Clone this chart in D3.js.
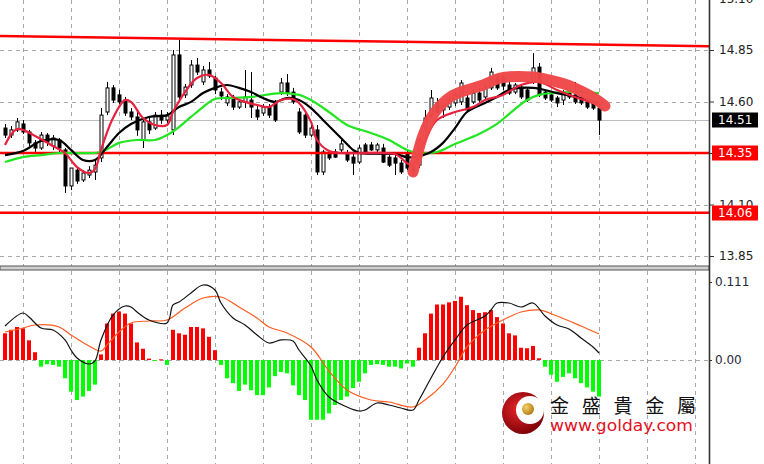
<!DOCTYPE html>
<html><head><meta charset="utf-8">
<script src="https://cdn.jsdelivr.net/npm/d3@7"></script>
<style>body{margin:0;background:#fff;overflow:hidden}</style>
</head><body>
<svg id="c" width="764" height="464"></svg>
<script>
// ---------- DATA ----------
const open = [14.471,14.437,14.462,14.491,14.452,14.399,14.374,14.437,14.384,14.413,
14.365,14.190,14.267,14.219,14.243,14.258,14.326,14.549,14.666,14.632,
14.607,14.549,14.525,14.413,14.501,14.471,14.534,14.510,14.462,14.826,
14.632,14.680,14.777,14.695,14.753,14.714,14.646,14.593,14.617,14.573,
14.598,14.607,14.559,14.544,14.573,14.593,14.646,14.690,14.646,14.549,
14.534,14.437,14.462,14.258,14.350,14.355,14.365,14.350,14.330,14.306,
14.389,14.389,14.365,14.374,14.330,14.326,14.301,14.350,14.277,14.291,
14.471,14.534,14.593,14.559,14.573,14.593,14.598,14.617,14.598,14.641,
14.622,14.666,14.719,14.714,14.680,14.646,14.670,14.656,14.695,14.767,
14.646,14.632,14.617,14.607,14.646,14.632,14.617,14.598,14.593,14.568];
const high = [14.491,14.481,14.520,14.510,14.462,14.413,14.452,14.447,14.437,14.423,
14.374,14.258,14.277,14.267,14.286,14.316,14.568,14.695,14.680,14.656,
14.622,14.568,14.559,14.520,14.530,14.549,14.559,14.549,14.850,14.899,
14.685,14.801,14.811,14.772,14.792,14.724,14.666,14.636,14.632,14.612,
14.753,14.743,14.578,14.588,14.588,14.607,14.714,14.733,14.666,14.568,
14.549,14.486,14.486,14.365,14.365,14.369,14.413,14.365,14.355,14.389,
14.399,14.403,14.399,14.394,14.340,14.340,14.316,14.365,14.306,14.423,
14.559,14.656,14.617,14.583,14.622,14.641,14.704,14.632,14.656,14.666,
14.680,14.763,14.733,14.729,14.704,14.690,14.685,14.666,14.835,14.787,
14.656,14.641,14.627,14.656,14.656,14.695,14.627,14.607,14.602,14.578];
const low = [14.423,14.423,14.452,14.442,14.384,14.355,14.365,14.384,14.365,14.355,
14.156,14.170,14.200,14.209,14.229,14.219,14.306,14.534,14.593,14.588,
14.530,14.510,14.433,14.374,14.442,14.462,14.491,14.496,14.437,14.607,
14.617,14.666,14.729,14.680,14.714,14.636,14.607,14.578,14.559,14.564,
14.568,14.520,14.510,14.530,14.520,14.501,14.632,14.627,14.588,14.442,
14.423,14.428,14.243,14.243,14.316,14.326,14.355,14.306,14.243,14.296,
14.345,14.360,14.355,14.301,14.282,14.243,14.248,14.267,14.238,14.277,
14.452,14.520,14.539,14.520,14.559,14.578,14.583,14.549,14.588,14.598,
14.612,14.656,14.656,14.656,14.632,14.636,14.612,14.598,14.685,14.622,
14.607,14.598,14.573,14.583,14.612,14.588,14.583,14.564,14.559,14.437];
const close = [14.437,14.462,14.501,14.452,14.399,14.374,14.437,14.403,14.423,14.374,
14.190,14.277,14.214,14.253,14.267,14.291,14.534,14.666,14.607,14.598,
14.544,14.525,14.462,14.501,14.462,14.534,14.510,14.530,14.826,14.622,
14.670,14.777,14.743,14.753,14.724,14.656,14.627,14.622,14.573,14.598,
14.622,14.573,14.525,14.573,14.534,14.510,14.690,14.641,14.598,14.452,
14.437,14.471,14.258,14.355,14.326,14.330,14.394,14.316,14.301,14.374,
14.355,14.365,14.389,14.306,14.291,14.301,14.258,14.277,14.267,14.413,
14.520,14.617,14.549,14.578,14.607,14.632,14.690,14.559,14.641,14.607,
14.666,14.743,14.666,14.675,14.641,14.680,14.622,14.607,14.763,14.632,
14.617,14.607,14.593,14.641,14.622,14.598,14.593,14.573,14.568,14.510];

// moving averages (sampled at bar indices)
const maFastIdx = [0,2,5,8,10,12,14,15,16,18,20,21,23,25,27,28,30,32,34,36,38,40,42,44,46,48,49,51,52,54,56,65,66,67,68,70,72,75,78,80,83,86,89,92,95,99];
const maFastVal = [14.389,14.466,14.433,14.384,14.350,14.282,14.253,14.272,14.365,14.520,14.607,14.598,14.520,14.486,14.486,14.549,14.646,14.714,14.729,14.690,14.622,14.598,14.583,14.573,14.607,14.612,14.593,14.501,14.413,14.360,14.350,14.345,14.326,14.301,14.291,14.413,14.510,14.549,14.573,14.607,14.632,14.680,14.695,14.656,14.622,14.583];
const maMidIdx = [0,3,6,9,11,13,15,17,19,21,24,27,29,31,33,35,37,39,41,43,45,47,49,51,53,56,58,59,65,67,68,71,73,75,77,80,82,84,88,92,96,99];
const maMidVal = [14.340,14.360,14.408,14.413,14.365,14.316,14.316,14.379,14.447,14.491,14.525,14.534,14.573,14.598,14.641,14.666,14.680,14.666,14.646,14.617,14.598,14.617,14.607,14.568,14.510,14.423,14.365,14.350,14.345,14.330,14.330,14.355,14.399,14.471,14.549,14.593,14.622,14.656,14.666,14.641,14.617,14.593];
const maSlowIdx = [0,3,6,9,16,19,22,25,27,29,31,33,35,38,41,46,49,51,54,57,61,64,67,69,72,75,79,82,84,87,89,91,94,99];
const maSlowVal = [14.306,14.330,14.340,14.350,14.355,14.399,14.413,14.413,14.437,14.476,14.525,14.573,14.612,14.617,14.622,14.641,14.632,14.607,14.549,14.486,14.447,14.413,14.365,14.350,14.355,14.394,14.442,14.491,14.539,14.607,14.632,14.641,14.646,14.641];

// horizontal levels, trend line, current price
const levels = [14.35, 14.06];
const currentPrice = 14.51;
const trendIdx = [-1, 118];
const trendVal = [14.918, 14.868];

// hand-drawn highlight stroke (bar index, price)
const brushIdx = [68, 68.5, 69.7, 71.3, 74.2, 77, 79.7, 82.5, 88, 90.8, 93.7, 96.3, 98.7, 100];
const brushVal = [14.258, 14.316, 14.437, 14.534, 14.622, 14.656, 14.680, 14.714, 14.719, 14.704, 14.680, 14.646, 14.607, 14.578];

// MACD
const hist = [0.038,0.043,0.047,0.045,0.028,0.011,-0.0095,-0.006,-0.007,-0.0095,
-0.026,-0.045,-0.057,-0.052,-0.044,-0.035,0.008,0.052,0.066,0.069,
0.066,0.052,0.025,0.016,0.002,-0.001,0.001,-0.007,0.043,0.038,
0.036,0.047,0.047,0.045,0.033,0.014,-0.007,-0.026,-0.033,-0.044,
-0.035,-0.043,-0.050,-0.050,-0.039,-0.023,-0.017,-0.019,-0.036,-0.050,
-0.057,-0.085,-0.085,-0.085,-0.076,-0.064,-0.057,-0.052,-0.040,-0.031,
-0.019,-0.007,-0.006,-0.007,-0.0095,-0.0095,-0.012,-0.005,-0.0095,0.0175,
0.038,0.066,0.079,0.079,0.082,0.084,0.090,0.078,0.071,0.067,
0.068,0.071,0.061,0.052,0.038,0.035,0.0175,0.0167,0.020,0.0024,
-0.0095,-0.021,-0.031,-0.024,-0.019,-0.026,-0.033,-0.039,-0.045,-0.052];
const macdIdx = [0,3,4,6,8,10,11,12,14,15,16,18,20,21,22,24,27,28,29,31,33,35,36,38,40,42,44,46,48,49,51,52,54,57,59,60,62,64,66,68,69,71,73,75,77,80,81,82,84,86,88,90,92,94,96,98,99];
const macdVal = [0.0484,0.0669,0.0612,0.0455,0.0427,0.0285,0.0142,0.0028,-0.0057,-0.0014,0.0285,0.0640,0.0768,0.0754,0.0683,0.0569,0.0527,0.0783,0.0825,0.0953,0.1067,0.0996,0.0811,0.0598,0.0498,0.0356,0.0242,0.0285,0.0270,0.0142,-0.0085,-0.0285,-0.0527,-0.0669,-0.0726,-0.0712,-0.0612,-0.0640,-0.0683,-0.0712,-0.0569,-0.0256,0.0043,0.0285,0.0498,0.0626,0.0712,0.0811,0.0811,0.0754,0.0811,0.0626,0.0498,0.0441,0.0313,0.0185,0.0100];
const signalIdx = [0,3,5,9,11,14,16,17,19,21,24,27,30,33,36,39,42,44,47,51,54,57,61,64,68,70,73,75,77,80,82,84,86,89,92,96,99];
const signalVal = [0.0398,0.0455,0.0498,0.0470,0.0356,0.0199,0.0128,0.0213,0.0398,0.0527,0.0555,0.0569,0.0740,0.0882,0.0896,0.0754,0.0598,0.0470,0.0384,0.0185,-0.0157,-0.0427,-0.0569,-0.0598,-0.0669,-0.0569,-0.0342,-0.0100,0.0185,0.0427,0.0527,0.0612,0.0683,0.0712,0.0626,0.0484,0.0370];

// axes
const priceTicks = [15.10, 14.85, 14.60, 14.35, 14.10, 13.85];
const priceTickLabels = ["15.10", "14.85", "14.60", "14.35", "14.10", "13.85"];
const macdTicks = [0.111, 0];
const macdTickLabels = ["0.111", "0.00"];
const timeGridBars = [3, 11, 19, 27, 35, 43, 51, 59, 67, 75, 83, 91, 99, 107, 115];
const brandName = "金 盛 貴 金 屬";
const brandUrl = "www.golday.com";

// ---------- DRAWING ----------
const svg = d3.select("#c");
const W = 764, AX = 709;
const mainTop = 0, mainBot = 266, macdTop = 271, macdBot = 464;

const x = d3.scaleLinear().domain([0, 99]).range([5, 599]);
const yP = d3.scaleLinear().domain([13.85, 14.85]).range([256, 50]);
const yM = d3.scaleLinear().domain([0, 0.111]).range([360, 282]);

const defs = svg.append("defs");
defs.append("clipPath").attr("id", "cm").append("rect").attr("x", 0).attr("y", mainTop).attr("width", AX).attr("height", mainBot - mainTop);
defs.append("clipPath").attr("id", "cd").append("rect").attr("x", 0).attr("y", macdTop).attr("width", AX).attr("height", macdBot - macdTop);

const gm = svg.append("g").attr("clip-path", "url(#cm)");
const gd = svg.append("g").attr("clip-path", "url(#cd)");

const gridCol = "#a8a8a8";
// vertical grid
[[gm, mainTop, mainBot], [gd, macdTop, macdBot]].forEach(([g, t, b]) => {
  g.append("g").selectAll("line").data(timeGridBars).join("line")
    .attr("x1", d => Math.round(x(d)) + 0.5).attr("x2", d => Math.round(x(d)) + 0.5)
    .attr("y1", t).attr("y2", b)
    .attr("stroke", gridCol).attr("stroke-dasharray", "4,4");
});
// horizontal price grid
gm.append("g").selectAll("line").data(priceTicks).join("line")
  .attr("x1", 0).attr("x2", AX)
  .attr("y1", d => Math.round(yP(d)) + 0.5).attr("y2", d => Math.round(yP(d)) + 0.5)
  .attr("stroke", gridCol).attr("stroke-dasharray", "4,4");
// zero line macd
gd.append("line").attr("x1", 0).attr("x2", AX)
  .attr("y1", Math.round(yM(0)) + 0.5).attr("y2", Math.round(yM(0)) + 0.5)
  .attr("stroke", gridCol).attr("stroke-dasharray", "4,4");

// current price line
gm.append("line").attr("x1", 0).attr("x2", AX)
  .attr("y1", Math.round(yP(currentPrice)) + 0.5).attr("y2", Math.round(yP(currentPrice)) + 0.5)
  .attr("stroke", "#bdbdbd");

// candles
const N = close.length;
const bars = d3.range(N);
gm.append("g").selectAll("line").data(bars).join("line")
  .attr("x1", i => x(i) + 0.5).attr("x2", i => x(i) + 0.5)
  .attr("y1", i => yP(high[i])).attr("y2", i => yP(low[i]))
  .attr("stroke", "#000").attr("stroke-width", 1);
gm.append("g").selectAll("rect").data(bars).join("rect")
  .attr("x", i => x(i) - 1)
  .attr("y", i => Math.min(yP(open[i]), yP(close[i])))
  .attr("width", 3)
  .attr("height", i => Math.max(1, Math.abs(yP(open[i]) - yP(close[i]))))
  .attr("fill", i => close[i] >= open[i] ? "#fff" : "#000")
  .attr("stroke", "#000").attr("stroke-width", 1);

// horizontal levels
gm.append("g").selectAll("line").data(levels).join("line")
  .attr("x1", 0).attr("x2", AX)
  .attr("y1", d => yP(d)).attr("y2", d => yP(d))
  .attr("stroke", "#ff0000").attr("stroke-width", 2.5);
// trend line
gm.append("line")
  .attr("x1", x(trendIdx[0])).attr("y1", yP(trendVal[0]))
  .attr("x2", x(trendIdx[1])).attr("y2", yP(trendVal[1]))
  .attr("stroke", "#ff0000").attr("stroke-width", 2.5);

// moving averages
function maPath(idx, vals, col, w) {
  gm.append("path").datum(vals)
    .attr("d", d3.line().x((d, k) => x(idx[k])).y(d => yP(d)).curve(d3.curveCatmullRom.alpha(0.5)))
    .attr("fill", "none").attr("stroke", col).attr("stroke-width", w).attr("stroke-linejoin", "round");
}
maPath(maSlowIdx, maSlowVal, "#22e622", 2.2);
maPath(maMidIdx, maMidVal, "#000000", 2.2);
maPath(maFastIdx, maFastVal, "#e8213f", 2.2);

// hand drawn highlight
gm.append("path").datum(brushVal)
  .attr("d", d3.line().x((d, k) => x(brushIdx[k])).y(d => yP(d)).curve(d3.curveCatmullRom.alpha(0.5)))
  .attr("fill", "none").attr("stroke", "#f04848").attr("stroke-width", 11)
  .attr("stroke-linecap", "round").attr("stroke-linejoin", "round").attr("opacity", 0.97);

// MACD histogram
gd.append("g").selectAll("rect").data(bars).join("rect")
  .attr("x", i => x(i) - 2)
  .attr("y", i => Math.min(yM(hist[i]), yM(0)))
  .attr("width", 4)
  .attr("height", i => Math.max(1, Math.abs(yM(hist[i]) - yM(0))))
  .attr("fill", i => hist[i] >= 0 ? "#ff0000" : "#00ff00");
// MACD & signal
gd.append("path").datum(signalVal)
  .attr("d", d3.line().x((d, k) => x(signalIdx[k])).y(d => yM(d)).curve(d3.curveCatmullRom.alpha(0.5)))
  .attr("fill", "none").attr("stroke", "#ff5a1e").attr("stroke-width", 1.2);
gd.append("path").datum(macdVal)
  .attr("d", d3.line().x((d, k) => x(macdIdx[k])).y(d => yM(d)).curve(d3.curveCatmullRom.alpha(0.5)))
  .attr("fill", "none").attr("stroke", "#111").attr("stroke-width", 1.2);

// panel separator
svg.append("rect").attr("x", 0).attr("y", 266).attr("width", AX).attr("height", 4)
  .attr("fill", "#d0d0d0").attr("stroke", "#555").attr("stroke-width", 1);

// right axis line
svg.append("line").attr("x1", AX + 0.5).attr("x2", AX + 0.5).attr("y1", 0).attr("y2", 464)
  .attr("stroke", "#333").attr("stroke-width", 1.6);

// axes
const fontFam = "DejaVu Sans, Verdana, sans-serif";
const axP = svg.append("g").attr("transform", `translate(${AX + 1},0)`)
  .call(d3.axisRight(yP).tickValues(priceTicks).tickSize(4).tickPadding(5)
    .tickFormat((d, k) => priceTickLabels[k]));
axP.select(".domain").remove();
axP.selectAll("text").attr("font-family", fontFam).attr("font-size", 12).attr("fill", "#222");
axP.selectAll("line").attr("stroke", "#333");

const axM = svg.append("g").attr("transform", `translate(${AX + 1},0)`)
  .call(d3.axisRight(yM).tickValues(macdTicks).tickSize(3).tickPadding(2)
    .tickFormat((d, k) => macdTickLabels[k]));
axM.select(".domain").remove();
axM.selectAll("text").attr("font-family", fontFam).attr("font-size", 12).attr("fill", "#1f2a3c");
axM.selectAll("line").attr("stroke", "#333").attr("stroke-dasharray", "2,1");

// price boxes
const boxes = [
  { v: currentPrice, label: currentPrice.toFixed(2), bg: "#000" },
  { v: levels[0], label: levels[0].toFixed(2), bg: "#ff0000" },
  { v: levels[1], label: levels[1].toFixed(2), bg: "#ff0000" }
];
const gb = svg.append("g").selectAll("g").data(boxes).join("g")
  .attr("transform", d => `translate(${AX + 3},${Math.round(yP(d.v))})`);
gb.append("rect").attr("x", 0).attr("y", -7.5).attr("width", 46).attr("height", 15).attr("fill", d => d.bg);
gb.append("text").attr("x", 6).attr("y", 0).attr("dy", "0.36em")
  .attr("font-family", fontFam).attr("font-size", 12).attr("fill", "#fff").text(d => d.label);

// watermark logo
const lg = svg.append("g");
const grad = defs.append("radialGradient").attr("id", "lgR").attr("cx", "40%").attr("cy", "40%").attr("r", "65%");
grad.append("stop").attr("offset", "0%").attr("stop-color", "#e8262a");
grad.append("stop").attr("offset", "100%").attr("stop-color", "#7a0006");
lg.append("circle").attr("cx", 523).attr("cy", 413).attr("r", 21).attr("fill", "url(#lgR)");
lg.append("circle").attr("cx", 530).attr("cy", 410).attr("r", 14).attr("fill", "#fff");
lg.append("path").attr("d", "M532,396 A15,15 0 0 1 536,428 A13,13 0 0 0 532,396 Z").attr("fill", "#d2a030");
const gg = defs.append("radialGradient").attr("id", "lgG").attr("cx", "35%").attr("cy", "35%").attr("r", "70%");
gg.append("stop").attr("offset", "0%").attr("stop-color", "#f4d36a");
gg.append("stop").attr("offset", "100%").attr("stop-color", "#b07a10");
lg.append("circle").attr("cx", 528).attr("cy", 409).attr("r", 6).attr("fill", "url(#lgG)");

svg.append("text").attr("x", 550).attr("y", 413)
  .attr("font-family", "Noto Sans CJK TC, Noto Sans CJK SC, sans-serif").attr("font-size", 19)
  .attr("textLength", 146).attr("lengthAdjust", "spacing").attr("fill", "#111").text(brandName);
svg.append("text").attr("x", 550).attr("y", 431)
  .attr("font-family", "DejaVu Sans, Verdana, sans-serif").attr("font-size", 16)
  .attr("textLength", 143).attr("lengthAdjust", "spacingAndGlyphs").attr("fill", "#e3101e").text(brandUrl);
</script>
</body></html>
